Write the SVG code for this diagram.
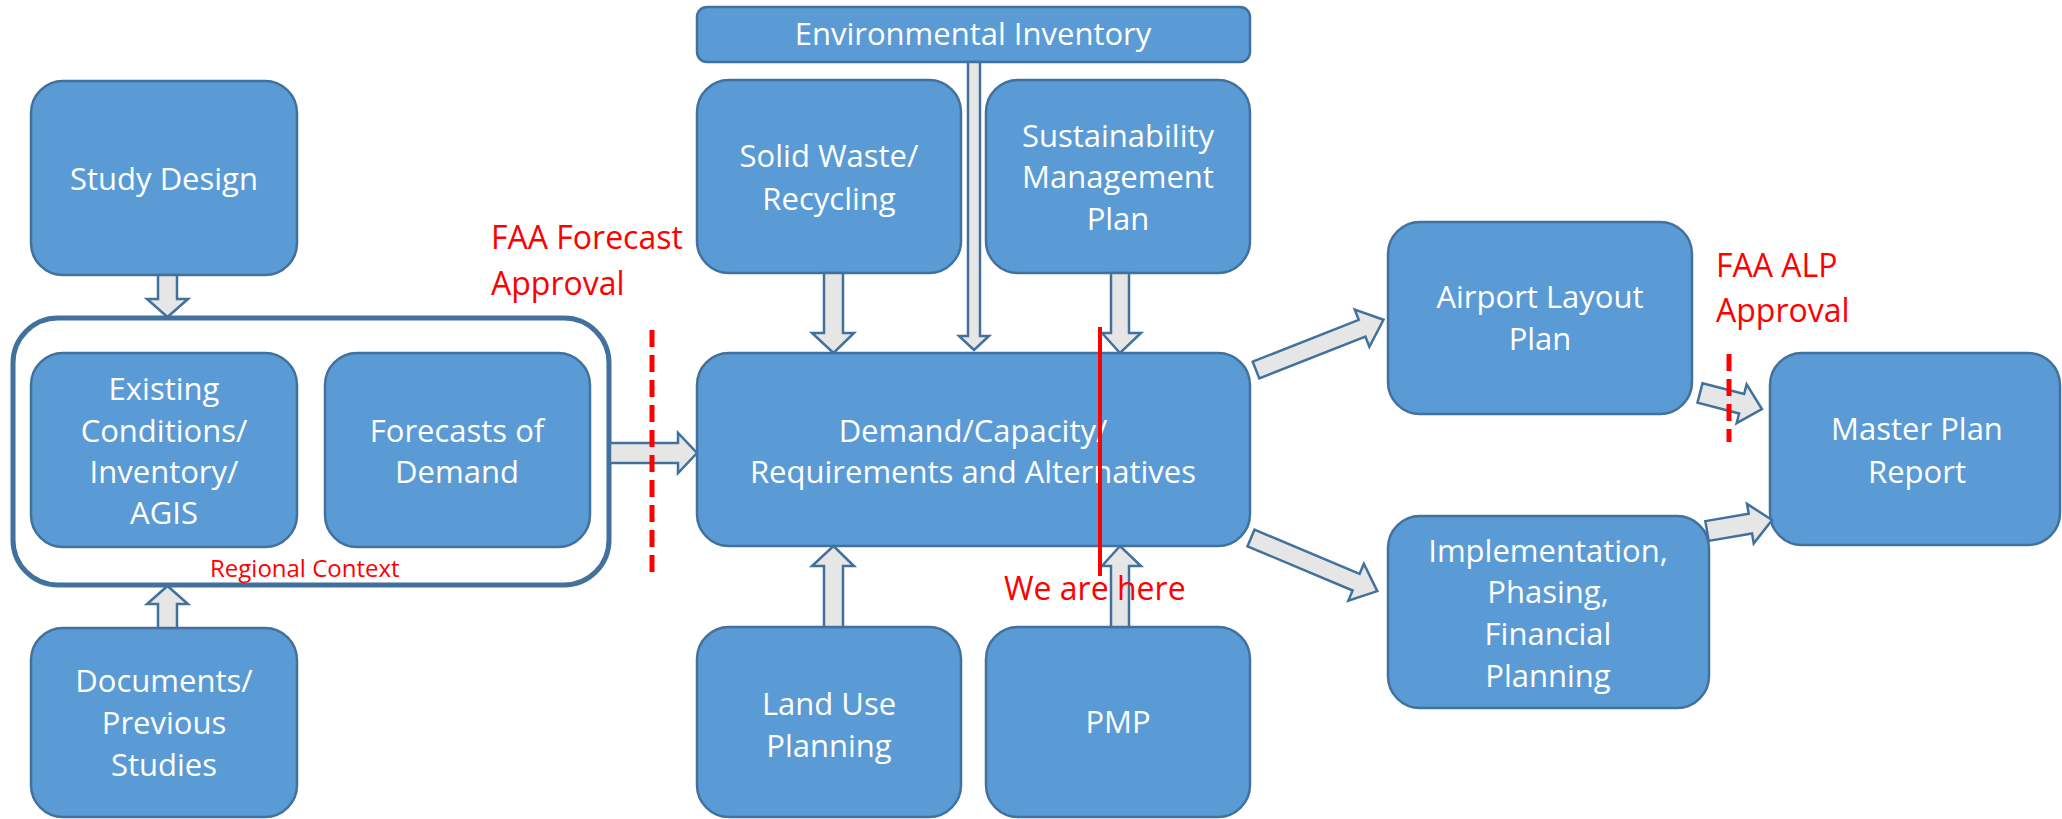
<svg xmlns="http://www.w3.org/2000/svg" width="2062" height="819" viewBox="0 0 2062 819">
<style>
.box{fill:#5B9BD5;stroke:#41719C;stroke-width:2.5}
.arr{fill:#E7E6E6;stroke:#41719C;stroke-width:2.5;stroke-linejoin:miter}
.t{font-family:"Open Sans","Noto Sans",sans-serif;font-size:31px;fill:#FFFFFF;text-anchor:middle}
.r{font-family:"Open Sans","Noto Sans",sans-serif;font-size:32px;fill:#FF0000}
.rs{font-family:"Open Sans","Noto Sans",sans-serif;font-size:24px;fill:#FF0000}
.dash{stroke:#FF0000;stroke-width:5;stroke-dasharray:17 8;fill:none}
</style>
<rect width="2062" height="819" fill="#FFFFFF"/>

<g id="regional-context">
<rect x="13" y="318" width="596" height="267" rx="45" ry="45" fill="#FFFFFF" stroke="#41719C" stroke-width="5"/>
<text class="rs" x="210" y="577">Regional Context</text>
</g>

<g id="study-design">
<rect class="box" x="31" y="81" width="266" height="194" rx="32"/>
<text class="t" x="164" y="190">Study Design</text>
</g>

<g id="existing-conditions">
<rect class="box" x="31" y="353" width="266" height="194" rx="32"/>
<text class="t" x="164" y="400">Existing</text>
<text class="t" x="164" y="442">Conditions/</text>
<text class="t" x="164" y="483">Inventory/</text>
<text class="t" x="164" y="524">AGIS</text>
</g>

<g id="forecasts">
<rect class="box" x="325" y="353" width="265" height="194" rx="32"/>
<text class="t" x="457" y="442">Forecasts of</text>
<text class="t" x="457" y="483">Demand</text>
</g>

<g id="documents">
<rect class="box" x="31" y="628" width="266" height="189" rx="32"/>
<text class="t" x="164" y="692">Documents/</text>
<text class="t" x="164" y="734">Previous</text>
<text class="t" x="164" y="776">Studies</text>
</g>

<g id="environmental-inventory">
<rect class="box" x="697" y="7" width="553" height="55" rx="10"/>
<text class="t" x="973" y="45">Environmental Inventory</text>
</g>

<g id="solid-waste">
<rect class="box" x="697" y="80" width="264" height="193" rx="32"/>
<text class="t" x="829" y="167">Solid Waste/</text>
<text class="t" x="829" y="210">Recycling</text>
</g>

<g id="sustainability">
<rect class="box" x="986" y="80" width="264" height="193" rx="32"/>
<text class="t" x="1118" y="147">Sustainability</text>
<text class="t" x="1118" y="188">Management</text>
<text class="t" x="1118" y="230">Plan</text>
</g>

<g id="demand-capacity">
<rect class="box" x="697" y="353" width="553" height="193" rx="32"/>
<text class="t" x="973" y="442">Demand/Capacity/</text>
<text class="t" x="973" y="483">Requirements and Alternatives</text>
</g>

<g id="land-use">
<rect class="box" x="697" y="627" width="264" height="190" rx="32"/>
<text class="t" x="829" y="715">Land Use</text>
<text class="t" x="829" y="757">Planning</text>
</g>

<g id="pmp">
<rect class="box" x="986" y="627" width="264" height="190" rx="32"/>
<text class="t" x="1118" y="733">PMP</text>
</g>

<g id="airport-layout">
<rect class="box" x="1388" y="222" width="304" height="192" rx="32"/>
<text class="t" x="1540" y="308">Airport Layout</text>
<text class="t" x="1540" y="350">Plan</text>
</g>

<g id="implementation">
<rect class="box" x="1388" y="516" width="321" height="192" rx="32"/>
<text class="t" x="1548" y="562">Implementation,</text>
<text class="t" x="1548" y="603">Phasing,</text>
<text class="t" x="1548" y="645">Financial</text>
<text class="t" x="1548" y="687">Planning</text>
</g>

<g id="master-plan">
<rect class="box" x="1770" y="353" width="290" height="192" rx="32"/>
<text class="t" x="1917" y="440">Master Plan</text>
<text class="t" x="1917" y="483">Report</text>
</g>

<g id="connectors">
<polygon class="arr" points="158,275 177,275 177,299 188,299 167.5,317 147,299 158,299"/>
<polygon class="arr" points="158,628 177,628 177,604 188,604 167.5,586 147,604 158,604"/>
<polygon class="arr" points="610,443 678,443 678,433 697,453 678,473 678,463 610,463"/>
<polygon class="arr" points="824,273 843,273 843,333 854,333 833.5,353 812,333 824,333"/>
<polygon class="arr" points="968,62 980,62 980,336 989,336 974,350 959,336 968,336"/>
<polygon class="arr" points="1111,273 1129,273 1129,333 1141,333 1120,353 1102,333 1111,333"/>
<polygon class="arr" points="824,627 843,627 843,566 854,566 833.5,546 812,566 824,566"/>
<polygon class="arr" points="1111,627 1129,627 1129,566 1141,566 1120,546 1102,566 1111,566"/>
<polygon class="arr" transform="translate(1256,370) rotate(-21.5)" points="0,-9 114,-9 114,-20 137,0 114,20 114,9 0,9"/>
<polygon class="arr" transform="translate(1251,538) rotate(22.8)" points="0,-9 114,-9 114,-20 137,0 114,20 114,9 0,9"/>
<polygon class="arr" transform="translate(1700,393) rotate(14.5)" points="0,-10 43,-10 43,-20 64,0 43,20 43,10 0,10"/>
<polygon class="arr" transform="translate(1707,531) rotate(-9.6)" points="0,-10 44,-10 44,-20 66,0 44,20 44,10 0,10"/>
</g>

<g id="annotations">
<line class="dash" x1="652" y1="330" x2="652" y2="580"/>
<line class="dash" x1="1729" y1="354" x2="1729" y2="442"/>
<line x1="1100" y1="327" x2="1100" y2="576" stroke="#FF0000" stroke-width="4"/>
<text class="r" x="491" y="249">FAA Forecast</text>
<text class="r" x="491" y="295">Approval</text>
<text class="r" x="1716" y="277">FAA ALP</text>
<text class="r" x="1716" y="322">Approval</text>
<text class="r" x="1004" y="600">We are here</text>
</g>
</svg>
